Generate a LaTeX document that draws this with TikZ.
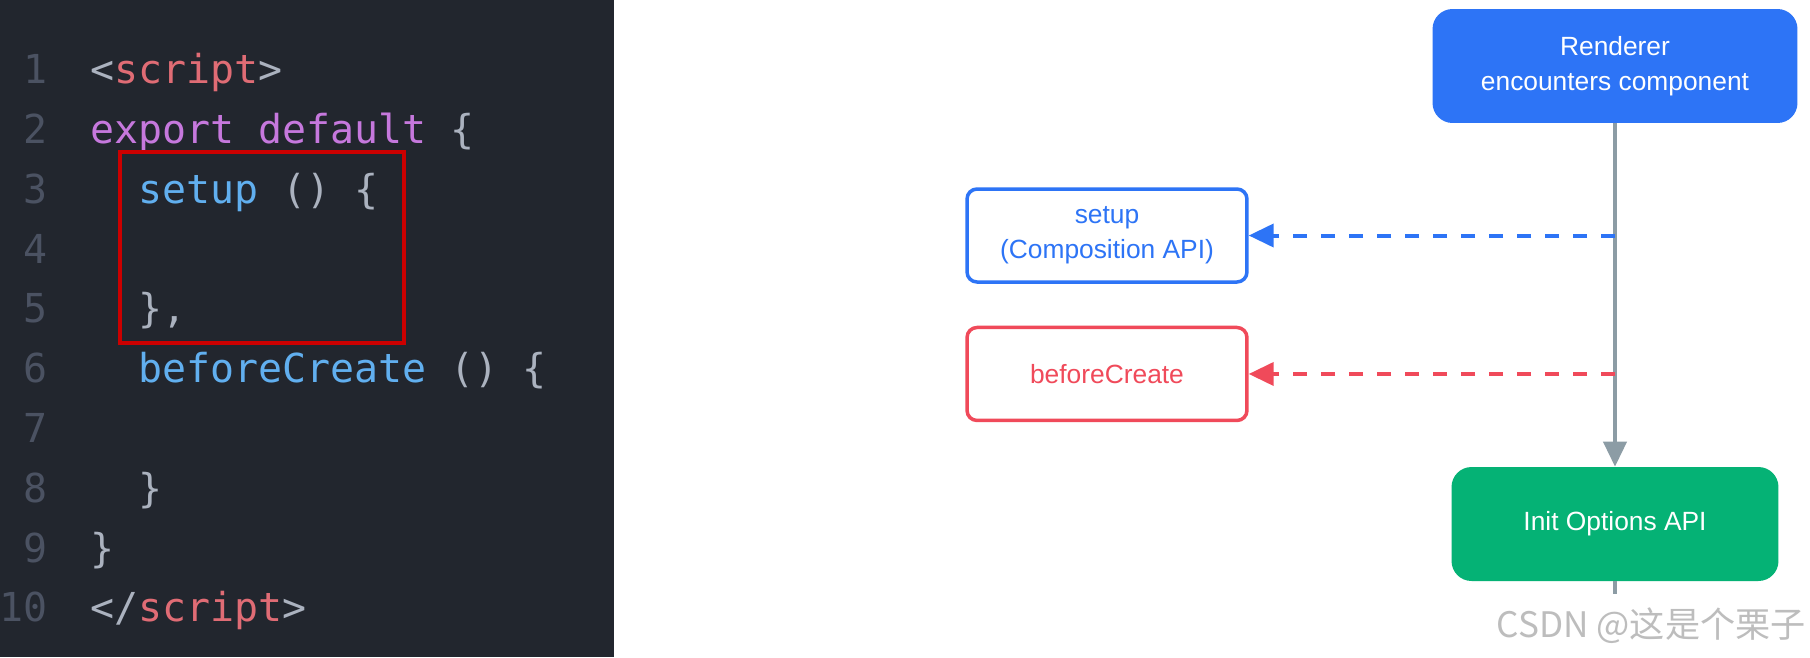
\documentclass[tikz,border=0pt]{standalone}
\usepackage{fontspec}
\setmainfont{Liberation Sans}
\setmonofont{DejaVu Sans Mono}
\newfontfamily\cjkfont{Noto Sans CJK SC}
\usetikzlibrary{arrows.meta,fit,positioning}

\definecolor{codebg}{HTML}{22262E}
\definecolor{lnumgray}{HTML}{4B5262}
\definecolor{punctgray}{HTML}{ABB2BF}
\definecolor{tagred}{HTML}{E06C75}
\definecolor{kwpurple}{HTML}{C678DD}
\definecolor{fnblue}{HTML}{61AFEF}
\definecolor{hlred}{HTML}{CC0000}
\definecolor{vueblue}{HTML}{2D74F6}
\definecolor{vuered}{HTML}{F04A5A}
\definecolor{vuegreen}{HTML}{05B275}
\definecolor{flowgray}{HTML}{8C9CA5}
\definecolor{markgray}{HTML}{BDBDBD}

\newcommand{\cpunct}[1]{\textcolor{punctgray}{#1}}
\newcommand{\ctag}[1]{\textcolor{tagred}{#1}}
\newcommand{\ckw}[1]{\textcolor{kwpurple}{#1}}
\newcommand{\cfn}[1]{\textcolor{fnblue}{#1}}

\begin{document}
\begin{tikzpicture}[x=0.02cm,y=-0.02cm,>={Triangle[length=0.5cm,width=0.46cm]},
		node distance=2.77cm]
	\tikzstyle{lnum}=[text=lnumgray,font=\ttfamily\fontsize{22.7}{27}\selectfont,inner sep=0pt,anchor=mid east]
	\tikzstyle{code}=[font=\ttfamily\fontsize{22.7}{27}\selectfont,inner sep=0pt,anchor=mid west]
	\tikzstyle{hlbox}=[draw=hlred,line width=0.066cm,inner sep=0pt]
	\tikzstyle{solidbox}=[rounded corners=0.4cm,minimum width=7.3cm,minimum height=2.28cm,
		text=white,align=center,font=\fontsize{15}{20}\selectfont,inner sep=0pt]
	\tikzstyle{hookbox}=[draw,line width=0.07cm,fill=white,rounded corners=0.2cm,
		minimum width=5.6cm,minimum height=1.86cm,align=center,font=\fontsize{15}{20}\selectfont]
	\tikzstyle{flow}=[draw=flowgray,line width=0.08cm]
	\tikzstyle{hookline}=[->,line width=0.08cm,dash pattern=on 0.28cm off 0.28cm]
	\tikzstyle{wmark}=[text=markgray,font=\cjkfont\fontsize{20}{24}\selectfont,inner sep=0pt,anchor=mid east]

	\useasboundingbox (0,0) rectangle (1810,657);
	\fill[white] (0,0) rectangle (1810,657);
	\fill[codebg] (0,0) rectangle (614,657);

	% editor: line numbers and code
	\foreach \n in {1,...,10}
		\node[lnum] (n\n) at (48,{79+(\n-1)*59.8}) {\n};
	\node[code] (c1)  at (90,79)     {\cpunct{<}\ctag{script}\cpunct{>}};
	\node[code] (c2)  at (90,138.8)  {\ckw{export default} \cpunct{\{}};
	\node[code] (c3)  at (138,198.6) {\cfn{setup} \cpunct{() \{}};
	\node[code] (c5)  at (138,318.2) {\cpunct{\},}};
	\node[code] (c6)  at (138,378)   {\cfn{beforeCreate} \cpunct{() \{}};
	\node[code] (c8)  at (138,497.6) {\cpunct{\}}};
	\node[code] (c9)  at (90,557.4)  {\cpunct{\}}};
	\node[code] (c10) at (90,617.2)  {\cpunct{</}\ctag{script}\cpunct{>}};
	\node (hl) [hlbox, fit={(120,152) (404,343)}] {};

	% flow chart
	\node[solidbox, fill=vueblue] (render) at (1615,66) {Renderer\\encounters component};
	\node[solidbox, fill=vuegreen, minimum width=6.54cm] (initopt) at (1615,524) {Init Options API};
	\node[hookbox, draw=vueblue, text=vueblue] (setup) at (1107,235.5) {setup\\(Composition API)};
	\node[hookbox, draw=vuered, text=vuered] (before) [below of=setup] {beforeCreate};

	\coordinate (tapS) at (render.south |- setup.east);
	\coordinate (tapB) at (render.south |- before.east);
	\coordinate (tail) at (1615,594);

	\draw[flow,->,color=flowgray] (render) -- (initopt);
	\draw[flow] (initopt) -- (tail);
	\draw[hookline,color=vueblue] (tapS) -- (setup);
	\draw[hookline,color=vuered] (tapB) -- (before);

	\node[wmark] (mark) at (1806,633) {CSDN @这是个栗子};
\end{tikzpicture}
\end{document}
